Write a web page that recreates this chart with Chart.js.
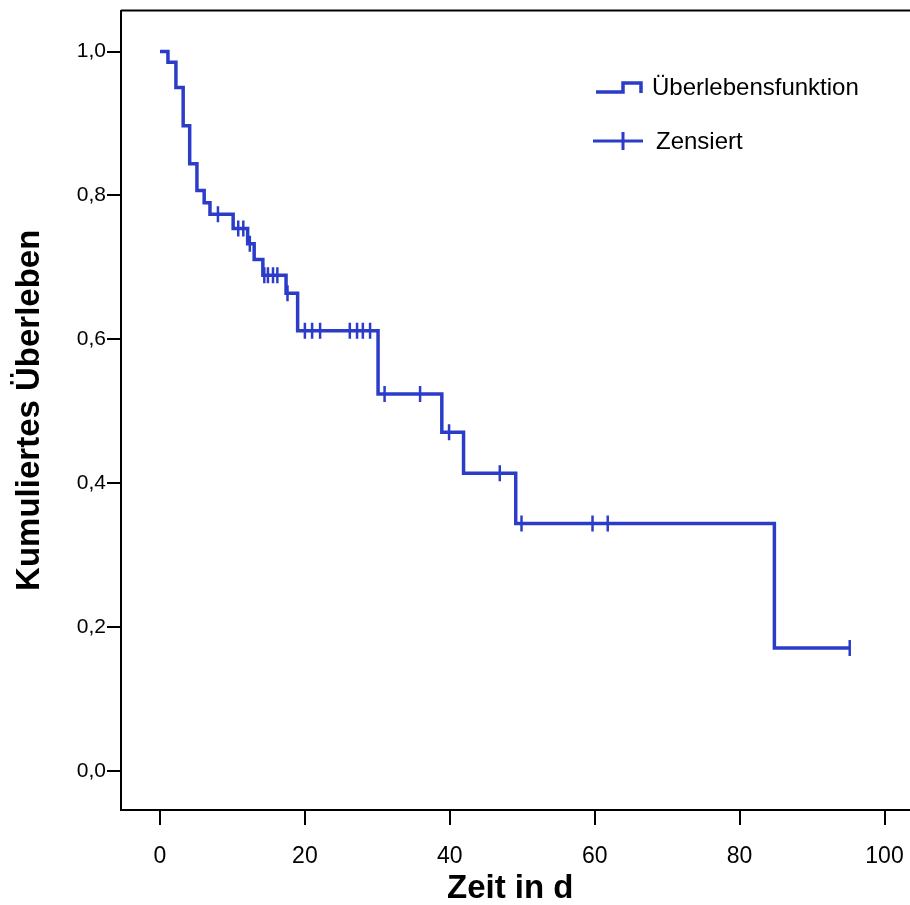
<!DOCTYPE html>
<html>
<head>
<meta charset="utf-8">
<title>Kaplan-Meier</title>
<script src="https://cdn.jsdelivr.net/npm/chart.js@4.4.0/dist/chart.umd.min.js"></script>
<style>
  html, body { margin: 0; padding: 0; background: #fff; }
  #wrap { width: 910px; height: 905px; }
</style>
</head>
<body>
<div id="wrap"><canvas id="kmChart" width="910" height="905"></canvas></div>
<script>
// step curve: time of each drop and survival after it (last point = end of follow-up)
const eventTimes = [0, 1.1, 2.2, 3.2, 4.1, 5.1, 6.1, 6.9, 10.1, 12.1, 13.0, 14.2, 17.4, 19.0, 30.1, 38.9, 41.9, 49.1, 84.8, 95.2];
const survival   = [1.0, 0.985, 0.95, 0.897, 0.844, 0.807, 0.79, 0.774, 0.754, 0.733, 0.711, 0.689, 0.664, 0.612, 0.524, 0.471, 0.414, 0.344, 0.171, 0.171];

// censored observations
const censorTimes    = [8.0, 10.8, 11.5, 12.4, 14.4, 14.9, 15.6, 16.2, 17.6, 20.0, 21.0, 22.1, 26.2, 27.2, 28.0, 29.0, 31.0, 35.9, 39.9, 46.9, 49.9, 59.7, 61.8, 95.2];
const censorSurvival = [0.774, 0.754, 0.754, 0.733, 0.689, 0.689, 0.689, 0.689, 0.664, 0.612, 0.612, 0.612, 0.612, 0.612, 0.612, 0.612, 0.524, 0.524, 0.471, 0.414, 0.344, 0.344, 0.344, 0.171];

const xTicks = [0, 20, 40, 60, 80, 100];
const yTicks = [0, 0.2, 0.4, 0.6, 0.8, 1.0];

const blue = '#2b3cc9';
const fontFamily = '"Liberation Sans", Arial, Helvetica, sans-serif';
Chart.defaults.font.family = fontFamily;
Chart.defaults.color = '#000';

// frame (top line, axis running off the right edge) + legend
const framePlugin = {
    id: 'frame',
    afterDraw(chart) {
        const ctx = chart.ctx;
        const a = chart.chartArea;
        ctx.save();
        ctx.strokeStyle = '#000';
        ctx.lineWidth = 2;
        ctx.beginPath();
        ctx.moveTo(a.left, a.top);
        ctx.lineTo(chart.width, a.top);
        ctx.moveTo(a.right - 1, a.bottom);
        ctx.lineTo(chart.width, a.bottom);
        ctx.stroke();

        // legend icons
        ctx.strokeStyle = blue;
        ctx.lineWidth = 3.5;
        ctx.lineJoin = 'miter';
        ctx.beginPath();
        ctx.moveTo(596, 92);
        ctx.lineTo(623, 92);
        ctx.lineTo(623, 83);
        ctx.lineTo(641, 83);
        ctx.lineTo(641, 93);
        ctx.stroke();

        ctx.lineWidth = 3;
        ctx.beginPath();
        ctx.moveTo(593, 141);
        ctx.lineTo(643, 141);
        ctx.moveTo(623, 132);
        ctx.lineTo(623, 150);
        ctx.stroke();

        ctx.fillStyle = '#000';
        ctx.font = '24px ' + fontFamily;
        ctx.textAlign = 'left';
        ctx.textBaseline = 'middle';
        ctx.fillText('Überlebensfunktion', 652, 88);
        ctx.fillText('Zensiert', 656, 142);
        ctx.restore();
    }
};

const ctx = document.getElementById('kmChart').getContext('2d');
new Chart(ctx, {
    type: 'line',
    data: {
        datasets: [
            {
                label: 'Überlebensfunktion',
                data: eventTimes.map((t, i) => ({ x: t, y: survival[i] })),
                borderColor: blue,
                borderWidth: 3.5,
                stepped: 'before',
                pointRadius: 0,
                fill: false,
                order: 2
            },
            {
                label: 'Zensiert',
                data: censorTimes.map((t, i) => ({ x: t, y: censorSurvival[i] })),
                showLine: false,
                pointStyle: 'line',
                rotation: 90,
                pointRadius: 8,
                borderColor: blue,
                borderWidth: 2.5,
                order: 1
            }
        ]
    },
    options: {
        responsive: false,
        animation: false,
        events: [],
        devicePixelRatio: 1,
        layout: { padding: { top: 10, right: 0, bottom: 0, left: 0 } },
        plugins: {
            legend: { display: false },
            tooltip: { enabled: false }
        },
        scales: {
            x: {
                type: 'linear',
                min: -5.38,
                max: 102.07,
                afterBuildTicks: s => { s.ticks = xTicks.map(v => ({ value: v })); },
                afterFit: s => { s.height = 95; s.paddingLeft = 0; s.paddingRight = 0; },
                grid: { drawOnChartArea: false, drawTicks: true, tickLength: 15, color: '#000', lineWidth: 2 },
                border: { display: true, color: '#000', width: 2 },
                ticks: {
                    color: '#000',
                    font: { size: 23 },
                    padding: 18,
                    maxRotation: 0,
                    autoSkip: false
                },
                title: {
                    display: true,
                    text: 'Zeit in d',
                    color: '#000',
                    font: { size: 33, weight: 'bold', lineHeight: 1 },
                    padding: { top: 0, bottom: 0 }
                }
            },
            y: {
                type: 'linear',
                min: -0.054,
                max: 1.057,
                afterBuildTicks: s => { s.ticks = yTicks.map(v => ({ value: v })); },
                afterFit: s => { s.width = 121; s.paddingTop = 0; s.paddingBottom = 0; },
                grid: { drawOnChartArea: false, drawTicks: true, tickLength: 14, color: '#000', lineWidth: 2 },
                border: { display: true, color: '#000', width: 2 },
                ticks: {
                    color: '#000',
                    font: { size: 21 },
                    padding: 1,
                    autoSkip: false,
                    callback: v => v.toFixed(1).replace('.', ',')
                },
                title: {
                    display: true,
                    text: 'Kumuliertes Überleben',
                    color: '#000',
                    font: { size: 33, weight: 'bold', lineHeight: 1 },
                    padding: { top: 13, bottom: 0 }
                }
            }
        }
    },
    plugins: [framePlugin]
});
</script>
</body>
</html>
